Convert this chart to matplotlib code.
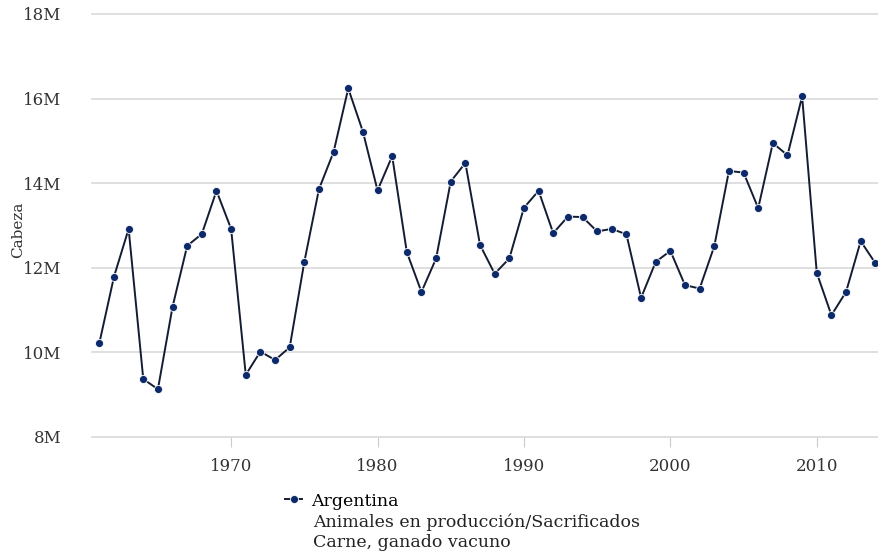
import matplotlib
matplotlib.use('Agg')
import matplotlib.pyplot as plt

plt.rcParams.update({
    'font.family': 'DejaVu Serif',
    'font.size': 10,
})

# Cattle slaughtered, Argentina (heads)
years = list(range(1961, 2015))
values_m = [
    10.22, 11.79, 12.92, 9.37, 9.13, 11.08, 12.52, 12.80, 13.82, 12.92,
    9.47, 10.02, 9.82, 10.12, 12.14, 13.86, 14.74, 16.24, 15.22, 13.83,
    14.64, 12.37, 11.43, 12.22, 14.04, 14.48, 12.54, 11.86, 12.22, 13.42,
    13.82, 12.82, 13.21, 13.20, 12.86, 12.92, 12.79, 11.29, 12.14, 12.40,
    11.59, 11.51, 12.51, 14.29, 14.25, 13.41, 14.95, 14.66, 16.05, 11.88,
    10.88, 11.43, 12.63, 12.11,
]
values = [v * 1e6 for v in values_m]
y_ticks = [8e6, 10e6, 12e6, 14e6, 16e6, 18e6]
y_tick_labels = ['8M', '10M', '12M', '14M', '16M', '18M']
x_ticks = [1970, 1980, 1990, 2000, 2010]
series_name = 'Argentina'
extra_lines = ['Animales en producción/Sacrificados', 'Carne, ganado vacuno']

fig = plt.figure(figsize=(8.79, 5.51), dpi=100)
ax = fig.add_axes([0.1047, 0.2069, 0.8953, 0.7677])

ax.plot(years, values, color='#141c33', linewidth=1.4,
        marker='o', markersize=5.8, markerfacecolor='#0c2a6b',
        markeredgecolor='white', markeredgewidth=0.6, label=series_name)

ax.set_xlim(1960.5, 2014.25)
ax.set_ylim(8e6, 18e6)
ax.set_yticks(y_ticks)
ax.set_yticklabels(y_tick_labels)
ax.set_xticks(x_ticks)

ax.grid(axis='y', color='#d9d9d9', linewidth=1.2)
for gl in ax.get_ygridlines():
    gl.set_clip_on(False)
ax.set_axisbelow(True)
for s in ax.spines.values():
    s.set_visible(False)
ax.tick_params(axis='y', length=0, pad=22, labelcolor='#333333', labelsize=12)
ax.tick_params(axis='x', length=7, color='#cccccc', pad=8, labelcolor='#333333', labelsize=12)
ax.set_ylabel('Cabeza', fontsize=11, color='#333333')
ax.yaxis.set_label_coords(-0.085, 0.49)

# Legend
fig.legend(loc='center left', bbox_to_anchor=(285 / 879, 1 - 501 / 551),
           frameon=False, handlelength=1.0, handletextpad=0.5,
           fontsize=12.5, borderaxespad=0, borderpad=0)
for i, line in enumerate(extra_lines):
    fig.text(313 / 879, 1 - (522 + 20.5 * i) / 551, line, fontsize=12.5,
             va='center', ha='left', color='#222222')

plt.savefig('out.png', dpi=100)
plt.close()
